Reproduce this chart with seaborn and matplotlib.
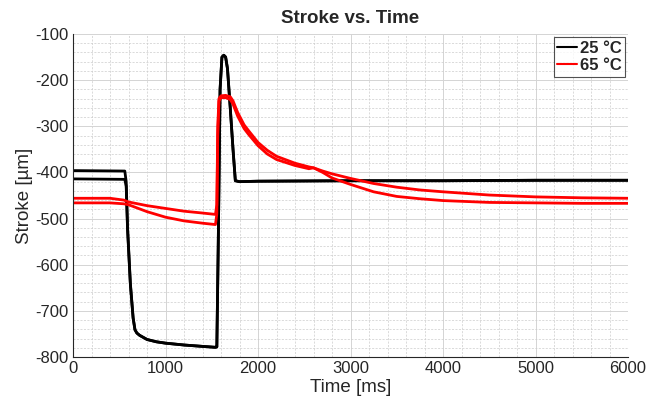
import numpy as np
import pandas as pd
import matplotlib
matplotlib.use('Agg')
import matplotlib.pyplot as plt
import seaborn as sns
from matplotlib.ticker import MultipleLocator

# 25 °C, two runs (only start level differs)
t_cold = [0, 560, 575, 590, 620, 650, 670, 690, 720, 800, 900, 1000, 1200,
          1400, 1540, 1555, 1570, 1590, 1610, 1630, 1650, 1670, 1700, 1730,
          1755, 1800, 2000, 3000, 4000, 5000, 6000]
s_cold_1 = [-396, -397, -420, -520, -640, -715, -741, -748, -753, -762, -767,
            -770, -774, -777, -779, -778, -560, -220, -150, -146, -150, -175,
            -260, -350, -418, -420, -419, -418, -418, -417, -417]
s_cold_2 = [-414, -415, -430, -525, -642, -716, -741, -748, -753, -762, -767,
            -770, -774, -777, -779, -778, -560, -220, -150, -146, -150, -175,
            -260, -350, -418, -420, -419, -418, -418, -417, -417]

# 65 °C, two runs
t_hot = [0, 400, 550, 600, 800, 1000, 1200, 1400, 1540, 1555, 1565, 1578,
         1600, 1650, 1700, 1730, 1780, 1850, 1900, 2000, 2100, 2200, 2400,
         2550, 2600, 2700, 2800, 3000, 3250, 3500, 3750, 4000, 4500, 5000,
         5500, 6000]
s_hot_1 = [-456, -456, -460, -464, -472, -478, -484, -488, -491, -470, -300,
           -240, -234, -233, -236, -245, -270, -297, -310, -335, -352, -365,
           -380, -388, -390, -397, -403, -413, -424, -432, -438, -442, -449,
           -453, -455, -456]
s_hot_2 = [-466, -466, -468, -470, -485, -497, -505, -510, -513, -490, -320,
           -245, -238, -238, -242, -252, -278, -305, -318, -342, -360, -372,
           -385, -392, -390, -400, -412, -426, -442, -452, -457, -461, -465,
           -466, -467, -467]

frames = []
for run, (t, s, lab) in enumerate([(t_cold, s_cold_1, '25 °C'),
                                   (t_cold, s_cold_2, '25 °C'),
                                   (t_hot, s_hot_1, '65 °C'),
                                   (t_hot, s_hot_2, '65 °C')]):
    frames.append(pd.DataFrame({'time': t, 'stroke': s, 'temp': lab, 'run': run}))
df = pd.concat(frames, ignore_index=True)

sns.set_theme(style='white')
plt.rcParams['font.family'] = ['Liberation Sans', 'DejaVu Sans']
plt.rcParams['axes.unicode_minus'] = False

fig = plt.figure(figsize=(6.49, 4.09), dpi=100)
ax = fig.add_axes([73 / 649, 1 - 357 / 409, (628 - 73) / 649, (357 - 34) / 409])

sns.lineplot(data=df, x='time', y='stroke', hue='temp', units='run',
             estimator=None, palette={'25 °C': '#000000', '65 °C': '#ff0000'},
             linewidth=2.0, ax=ax)

ax.set_xlim(0, 6000)
ax.set_ylim(-800, -100)
ax.xaxis.set_major_locator(MultipleLocator(1000))
ax.xaxis.set_minor_locator(MultipleLocator(200))
ax.yaxis.set_major_locator(MultipleLocator(100))
ax.yaxis.set_minor_locator(MultipleLocator(20))
ax.grid(True, which='major', color='#d4d4d4', linewidth=0.7, linestyle='-')
ax.grid(True, which='minor', color='#cccccc', linewidth=0.5, linestyle=(0, (3, 2)))
ax.set_axisbelow(True)

for side in ['top', 'right']:
    ax.spines[side].set_visible(False)
for side in ['left', 'bottom']:
    ax.spines[side].set_color('#262626')
    ax.spines[side].set_linewidth(0.8)

ax.tick_params(which='major', direction='in', length=5, width=0.8,
               color='#262626', labelsize=12, labelcolor='#262626', pad=3)
ax.tick_params(which='minor', length=0)

ax.set_xlabel('Time [ms]', fontsize=13.5, color='#262626', labelpad=2)
ax.set_ylabel('Stroke [µm]', fontsize=13.5, color='#262626', labelpad=2)
ax.set_title('Stroke vs. Time', fontsize=13.5, fontweight='bold', pad=8)

leg = ax.legend(loc='upper right', frameon=True, fancybox=False,
                handlelength=1.2, handletextpad=0.15, borderpad=0.2,
                labelspacing=0.15, borderaxespad=0.2,
                prop={'size': 12, 'weight': 'bold'})
leg.get_frame().set_edgecolor('#262626')
leg.get_frame().set_linewidth(0.8)
for line in leg.get_lines():
    line.set_linewidth(1.5)

fig.savefig('out.png', dpi=100)
